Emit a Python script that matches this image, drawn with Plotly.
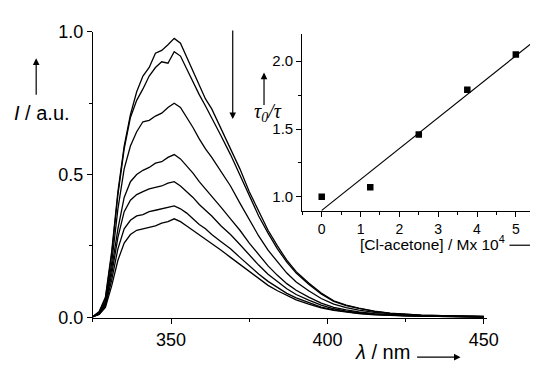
import plotly.graph_objects as go

W, H = 542, 369

# emission spectra (wavelength in nm, intensity in a.u.)
wavelength = [325, 327, 329, 331, 333, 335, 337, 339, 341, 343, 345, 347, 349, 351,
              353, 355, 357, 359, 361, 363, 366, 369, 372, 375, 378, 381, 384, 387,
              390, 394, 398, 402, 406, 410, 415, 420, 425, 430, 440, 450]

spec_a = [0.003, 0.02, 0.07, 0.23, 0.44, 0.60, 0.71, 0.79, 0.845, 0.875, 0.925, 0.935, 0.955, 0.977,
          0.960, 0.910, 0.860, 0.815, 0.765, 0.730, 0.660, 0.595, 0.520, 0.440, 0.370, 0.305, 0.250, 0.200,
          0.160, 0.120, 0.085, 0.058, 0.043, 0.032, 0.022, 0.015, 0.011, 0.008, 0.005, 0.003]
spec_b = [0.003, 0.018, 0.065, 0.22, 0.43, 0.59, 0.70, 0.76, 0.80, 0.845, 0.875, 0.895, 0.89, 0.93,
          0.915, 0.870, 0.820, 0.780, 0.740, 0.700, 0.635, 0.570, 0.500, 0.425, 0.355, 0.295, 0.240, 0.193,
          0.155, 0.116, 0.082, 0.056, 0.041, 0.031, 0.021, 0.014, 0.010, 0.008, 0.005, 0.003]
spec_c = [0.002, 0.015, 0.055, 0.19, 0.38, 0.52, 0.60, 0.65, 0.685, 0.69, 0.705, 0.715, 0.735, 0.75,
          0.735, 0.700, 0.665, 0.625, 0.590, 0.560, 0.510, 0.460, 0.400, 0.340, 0.285, 0.235, 0.193, 0.155,
          0.124, 0.093, 0.066, 0.046, 0.034, 0.025, 0.017, 0.012, 0.009, 0.006, 0.004, 0.002]
spec_d = [0.002, 0.013, 0.05, 0.17, 0.31, 0.42, 0.475, 0.50, 0.515, 0.525, 0.54, 0.545, 0.56, 0.57,
          0.555, 0.530, 0.505, 0.475, 0.450, 0.425, 0.385, 0.345, 0.305, 0.260, 0.218, 0.180, 0.147, 0.118,
          0.095, 0.071, 0.050, 0.035, 0.026, 0.019, 0.013, 0.009, 0.007, 0.005, 0.003, 0.002]
spec_e = [0.002, 0.012, 0.045, 0.15, 0.28, 0.37, 0.41, 0.43, 0.44, 0.45, 0.455, 0.46, 0.47, 0.475,
          0.460, 0.440, 0.420, 0.395, 0.375, 0.355, 0.320, 0.290, 0.255, 0.218, 0.183, 0.151, 0.124, 0.100,
          0.080, 0.060, 0.043, 0.030, 0.022, 0.016, 0.011, 0.008, 0.006, 0.004, 0.003, 0.002]
spec_f = [0.002, 0.011, 0.04, 0.13, 0.24, 0.31, 0.34, 0.355, 0.36, 0.37, 0.375, 0.38, 0.385, 0.39,
          0.380, 0.365, 0.345, 0.325, 0.310, 0.290, 0.265, 0.240, 0.210, 0.180, 0.152, 0.126, 0.104, 0.084,
          0.068, 0.051, 0.036, 0.026, 0.019, 0.014, 0.010, 0.007, 0.005, 0.004, 0.002, 0.001]
spec_g = [0.002, 0.01, 0.035, 0.11, 0.20, 0.26, 0.29, 0.305, 0.31, 0.315, 0.32, 0.33, 0.335, 0.345,
          0.335, 0.320, 0.305, 0.290, 0.275, 0.260, 0.235, 0.210, 0.185, 0.160, 0.135, 0.112, 0.093, 0.076,
          0.061, 0.046, 0.033, 0.024, 0.018, 0.013, 0.009, 0.006, 0.005, 0.004, 0.002, 0.001]

# Stern-Volmer inset
conc = [0, 1.25, 2.5, 3.75, 5]
tau_ratio = [1.0, 1.07, 1.46, 1.79, 2.05]
fit_x = [0, 5.5]
fit_y = [0.9, 2.154]


def px(x):
    return x / W


def py(y):
    return 1 - y / H


SANS = "Liberation Sans, Arial, sans-serif"
SERIF = "Liberation Serif, Times New Roman, serif"

fig = go.Figure()
for s in [spec_a, spec_b, spec_c, spec_d, spec_e, spec_f, spec_g]:
    fig.add_trace(go.Scatter(x=wavelength, y=s, mode="lines",
                             line=dict(color="black", width=1.3), showlegend=False))

fig.add_trace(go.Scatter(x=fit_x, y=fit_y, mode="lines", xaxis="x2", yaxis="y2",
                         line=dict(color="black", width=1.2), showlegend=False))
fig.add_trace(go.Scatter(x=conc, y=tau_ratio, mode="markers", xaxis="x2", yaxis="y2",
                         marker=dict(symbol="square", size=6.5, color="black"), showlegend=False))

axis_common = dict(showline=True, linecolor="black", linewidth=1, ticks="outside",
                   ticklen=5, tickwidth=1, tickcolor="black", showgrid=False, zeroline=False,
                   mirror=False)

fig.update_layout(
    width=W, height=H,
    margin=dict(l=0, r=0, t=0, b=0),
    paper_bgcolor="white", plot_bgcolor="rgba(0,0,0,0)",
    font=dict(family=SANS, color="black"),
    xaxis=dict(domain=[px(95), px(498)], range=[325, 451], dtick=50, tick0=350,
               anchor="y", tickfont=dict(size=18),
               minor=dict(dtick=25, tick0=325, ticks="outside", ticklen=3, tickcolor="black"),
               **axis_common),
    yaxis=dict(domain=[py(325), py(23)], range=[-0.0033, 1.0], dtick=0.5, tickformat=".1f",
               anchor="x", tickfont=dict(size=18),
               minor=dict(dtick=0.25, ticks="outside", ticklen=3, tickcolor="black"),
               **axis_common),
    xaxis2=dict(domain=[px(309), 1.0], range=[-0.504, 5.365], dtick=1, tick0=0,
                anchor="y2", tickfont=dict(size=14),
                minor=dict(dtick=0.5, ticks="outside", ticklen=3, tickcolor="black"),
                **axis_common),
    yaxis2=dict(domain=[py(212), py(25)], range=[0.895, 2.203], dtick=0.5, tick0=1.0,
                tickformat=".1f", anchor="x2", tickfont=dict(size=15),
                minor=dict(dtick=0.25, ticks="outside", ticklen=3, tickcolor="black"),
                **axis_common),
)


def arrow(x0, y0, x1, y1):
    # arrow drawn from pixel (x0, y0) to head at (x1, y1)
    fig.add_annotation(x=px(x1), y=py(y1), xref="paper", yref="paper",
                       ax=x0 - x1, ay=y0 - y1, axref="pixel", ayref="pixel",
                       showarrow=True, arrowhead=2, arrowsize=1.1, arrowwidth=1.2,
                       arrowcolor="black", text="")


def label(x, y, text, size, family=SANS, xanchor="center"):
    fig.add_annotation(x=px(x), y=py(y), xref="paper", yref="paper", text=text,
                       showarrow=False, xanchor=xanchor, yanchor="middle",
                       font=dict(size=size, family=family, color="black"))


# main axis titles
label(43, 109, "<i>I</i> / a.u.", 20)
arrow(37, 89, 37, 51)
label(391, 361, "<i>λ</i> / nm", 20)
arrow(426, 366, 471, 366)

# quenching direction
arrow(238, 25, 238, 115)

# inset titles
label(274, 108, "<i>τ<sub>0</sub>/τ</i>", 20, SERIF)
arrow(270, 100, 270, 66)
label(442, 246, "[Cl-acetone] / Mx 10<sup>4</sup>", 15.5)
fig.add_shape(type="line", xref="paper", yref="paper", x0=px(521), x1=1.0,
              y0=py(248), y1=py(248), line=dict(color="black", width=1.2))

# page has a default body margin; drop it so the figure sits at the window corner
fig.write_html("out.html", config={"displayModeBar": False},
               post_script="document.body.style.margin='0';")
